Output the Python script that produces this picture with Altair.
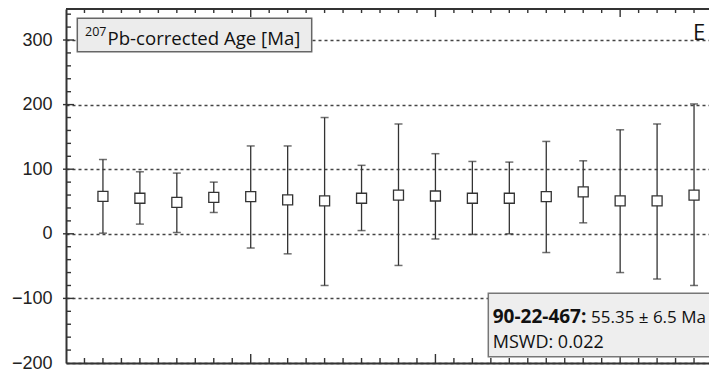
import altair as alt
import pandas as pd

# ---- data ----
sample_x = list(range(2, 35, 2))
age = [58, 55, 48.5, 56.5, 57.5, 52.5, 51, 55, 60, 58.5, 55, 55, 57.5, 65, 51, 51, 60]
err_lo = [1, 15, 2, 33, -22, -31, -80, 5, -49, -8, -1, 0, -29, 17, -60, -70, -80]
err_hi = [115, 96, 94, 80, 136, 136, 180, 106, 170, 124, 112, 111, 143, 113, 161, 170, 201]

y_labels = [-200, -100, 0, 100, 200, 300]
x_minor = [v for v in range(1, 36) if v % 10]
x_major = [10, 20, 30]
y_minor = [v for v in range(-180, 350, 20) if v % 100]
y_major = [-100, 0, 100, 200, 300]

title_sup = ["207"]
title_main = ["Pb-corrected Age [Ma]"]
panel_letter = ["E"]
result_bold = ["90-22-467:"]
result_rest = ["55.35 \u00b1 6.5 Ma"]
mswd_text = ["MSWD: 0.022"]

W, H = 643, 354
XDOM = [0, 34.81]
YDOM = [-200, 348]
INK = "#333333"
TXTFONT = "Open Sans"

df = pd.DataFrame({"x": sample_x, "age": age, "lo": err_lo, "hi": err_hi})
xs = alt.Scale(domain=XDOM, nice=False, zero=False)
ys = alt.Scale(domain=YDOM, nice=False, zero=False)

y_axis = alt.Axis(values=y_labels, grid=True, gridDash=[3, 3], gridColor="#444444",
                  gridWidth=1.4, ticks=False, tickSize=0, labelPadding=14,
                  labelFont="Liberation Sans", labelFontSize=18, labelColor="#222222",
                  domain=True, domainColor=INK, domainWidth=2,
                  minExtent=58, maxExtent=58, title=None)
x_axis = alt.Axis(labels=False, ticks=False, grid=False, domain=True,
                  domainColor=INK, domainWidth=2, title=None)

bars = alt.Chart(df).mark_rule(color=INK, strokeWidth=1.3).encode(
    x=alt.X("x:Q", scale=xs, axis=x_axis),
    y=alt.Y("lo:Q", scale=ys, axis=y_axis),
    y2="hi:Q",
)
cap_lo = alt.Chart(df).mark_tick(orient="horizontal", size=8, thickness=1.5, color=INK).encode(
    x=alt.X("x:Q", scale=xs), y=alt.Y("lo:Q", scale=ys))
cap_hi = alt.Chart(df).mark_tick(orient="horizontal", size=8, thickness=1.5, color=INK).encode(
    x=alt.X("x:Q", scale=xs), y=alt.Y("hi:Q", scale=ys))
points = alt.Chart(df).mark_square(size=100, filled=True, fill="white", stroke=INK,
                                   strokeWidth=1.3, opacity=1).encode(
    x=alt.X("x:Q", scale=xs), y=alt.Y("age:Q", scale=ys))

# ---- inward axis ticks ----
xmin_df = pd.DataFrame({"t": x_minor})
xmaj_df = pd.DataFrame({"t": x_major})
ymin_df = pd.DataFrame({"t": y_minor})
ymaj_df = pd.DataFrame({"t": y_major})

def xt(d, y0, y1):
    return alt.Chart(d).mark_rule(color=INK, strokeWidth=1.4).encode(
        x=alt.X("t:Q", scale=xs), y=alt.value(y0), y2=alt.value(y1))

def yt(d, x0, x1):
    return alt.Chart(d).mark_rule(color=INK, strokeWidth=1.4).encode(
        y=alt.Y("t:Q", scale=ys), x=alt.value(x0), x2=alt.value(x1))

ticks = [
    xt(xmin_df, 0, 4), xt(xmaj_df, 0, 8),
    xt(xmin_df, H, H - 5), xt(xmaj_df, H, H - 9),
    yt(ymin_df, 0, 5), yt(ymaj_df, -3, 8),
]
one = pd.DataFrame({"k": [0]})
top_border = alt.Chart(one).mark_rule(color=INK, strokeWidth=2).encode(
    x=alt.value(0), x2=alt.value(W), y=alt.value(0))

# ---- annotations ----
box1 = alt.Chart(one).mark_rect(fill="#ececec", stroke="#666666", strokeWidth=1.5).encode(
    x=alt.value(11.3), x2=alt.value(245.7), y=alt.value(9.3), y2=alt.value(42.7))
sup = alt.Chart(pd.DataFrame({"s": title_sup})).mark_text(
    align="left", baseline="alphabetic", font=TXTFONT, fontSize=12.5, color="#111111").encode(
    x=alt.value(19), y=alt.value(27), text="s:N")
main = alt.Chart(pd.DataFrame({"s": title_main})).mark_text(
    align="left", baseline="alphabetic", font=TXTFONT, fontSize=18.6, color="#111111").encode(
    x=alt.value(41.5), y=alt.value(36), text="s:N")
letter = alt.Chart(pd.DataFrame({"s": panel_letter})).mark_text(
    align="left", baseline="alphabetic", font=TXTFONT, fontSize=22, color="#111111").encode(
    x=alt.value(627), y=alt.value(31), text="s:N")

box2 = alt.Chart(one).mark_rect(fill="#eeeeee", stroke="#777777", strokeWidth=1.5).encode(
    x=alt.value(422.3), x2=alt.value(720), y=alt.value(284.3), y2=alt.value(347.7))
r_bold = alt.Chart(pd.DataFrame({"s": result_bold})).mark_text(
    align="left", baseline="alphabetic", font=TXTFONT, fontSize=19, fontWeight="bold",
    color="#111111").encode(x=alt.value(426.7), y=alt.value(313.7), text="s:N")
r_rest = alt.Chart(pd.DataFrame({"s": result_rest})).mark_text(
    align="left", baseline="alphabetic", font=TXTFONT, fontSize=17, color="#111111").encode(
    x=alt.value(525), y=alt.value(313.7), text="s:N")
r_mswd = alt.Chart(pd.DataFrame({"s": mswd_text})).mark_text(
    align="left", baseline="alphabetic", font=TXTFONT, fontSize=18, color="#111111").encode(
    x=alt.value(426.7), y=alt.value(339.3), text="s:N")

chart = alt.layer(
    bars, *ticks, top_border, cap_lo, cap_hi, points,
    box1, sup, main, letter, box2, r_bold, r_rest, r_mswd,
).properties(
    width=W, height=H,
    padding={"left": 58, "top": 1, "right": 0, "bottom": 10},
    autosize=alt.AutoSizeParams(type="none"),
).configure_view(stroke=None)

chart.save("out.html", embed_options={"renderer": "svg", "actions": False})
